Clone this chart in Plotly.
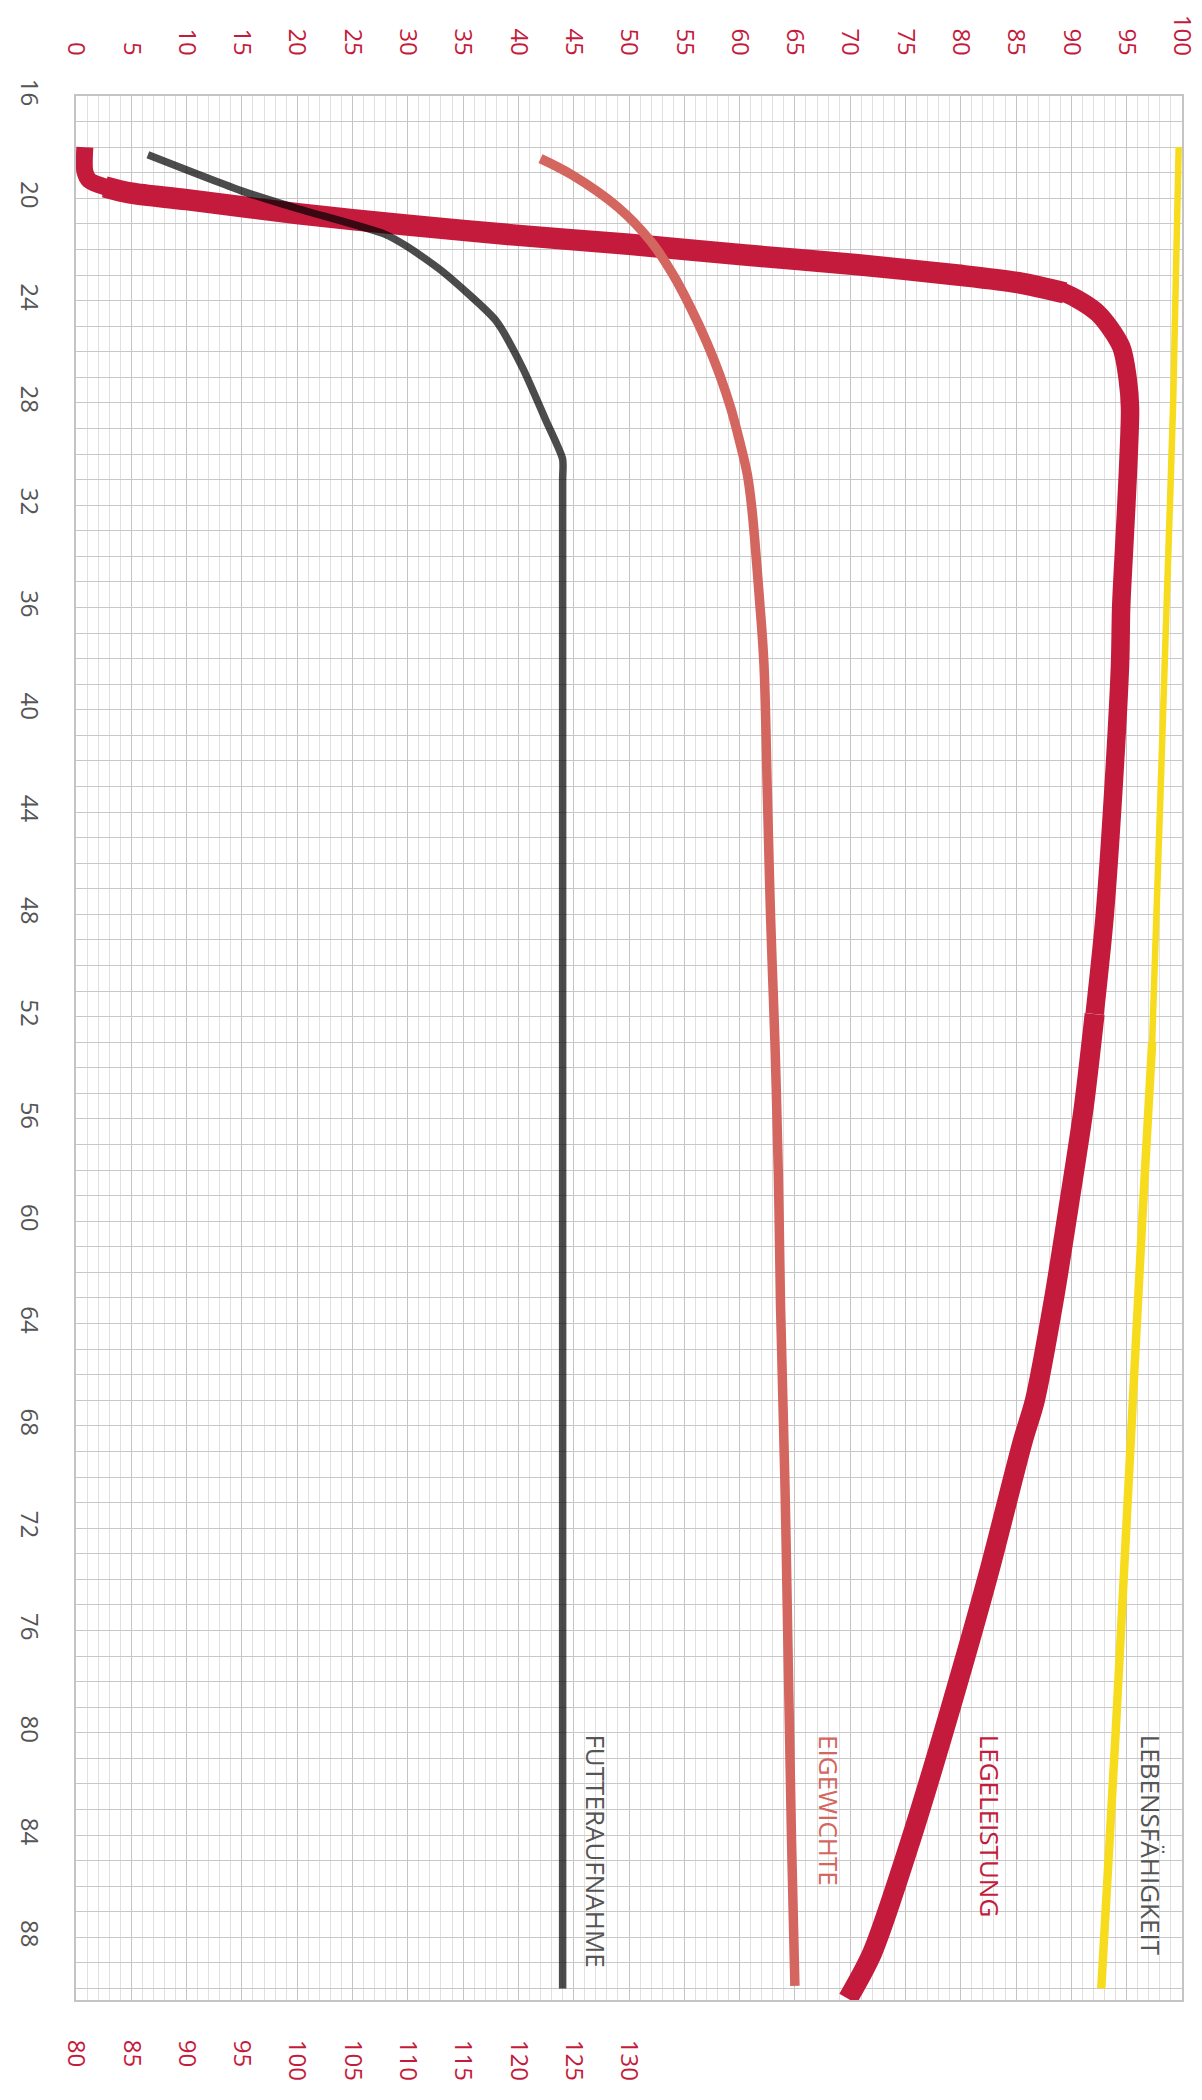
import plotly.graph_objects as go

# ---------------- data ----------------
# Lebensfähigkeit (%), top axis
leb_weeks = [18.0, 28.0, 36.0, 44.0, 53.0, 60.0, 70.0, 80.0, 90.0]
leb_vals = [99.7, 99.2, 98.6, 98.0, 97.3, 96.4, 95.2, 94.0, 92.7]

# Legeleistung (%), top axis
lege_weeks = [18.0, 18.95, 19.3, 19.55, 19.8, 20.05, 20.6, 21.05, 21.45, 21.8, 22.2,
              22.6, 23.0, 23.3, 23.7, 24.5, 25.8, 27.1, 28.2, 30.8, 33.4, 36.0,
              38.2, 43.1, 48.1, 51.9, 55.6, 59.3, 63.1, 67.0, 68.6, 73.8, 79.0,
              84.3, 88.6, 90.4]
lege_vals = [0.8, 0.8, 1.2, 2.6, 5.0, 10.0, 20.0, 30.0, 40.0, 50.0, 60.0,
             70.7, 79.7, 85.2, 89.4, 92.4, 94.5, 95.1, 95.3, 95.1, 94.8, 94.5,
             94.4, 93.8, 93.0, 92.1, 91.1, 89.8, 88.4, 86.7, 85.6, 82.5, 79.1,
             75.4, 72.0, 69.8]

# Eigewichte (g), top axis
ei_weeks = [18.45, 19.1, 20.35, 21.7, 23.0, 24.3, 25.6, 26.9, 28.2, 29.5, 30.8,
            32.1, 35.7, 38.2, 43.1, 48.1, 53.1, 58.1, 63.3, 70.3, 77.3, 84.3, 89.9]
ei_vals = [42.0, 44.9, 49.0, 52.0, 54.0, 55.6, 57.0, 58.2, 59.2, 60.0, 60.7,
           61.1, 61.8, 62.2, 62.5, 62.8, 63.2, 63.5, 63.7, 64.1, 64.4, 64.7, 65.0]

# Futteraufnahme (g), bottom axis
fut_weeks = [18.3, 19.7, 20.4, 21.4, 21.9, 22.85, 24.8, 26.65, 28.7, 30.2, 31.0, 40.0, 90.0]
fut_vals = [86.5, 94.9, 100.0, 107.9, 110.0, 113.1, 118.0, 120.4, 122.5, 124.0, 124.0, 124.0, 124.0]

top_ticks = list(range(0, 101, 5))
bottom_ticks = list(range(80, 131, 5))
week_ticks = list(range(16, 89, 4))

labels = ["FUTTERAUFNAHME", "EIGEWICHTE", "LEGELEISTUNG", "LEBENSFÄHIGKEIT"]
label_x = [47.0, 68.1, 82.6, 97.15]
label_y = [80.0, 80.0, 80.0, 80.0]

# ---------------- style ----------------
CRIMSON = "#c41b3c"
SALMON = "#d46660"
GREY_TXT = "#555555"
YELLOW = "#f7dc1e"
FONT = "Open Sans"

fig = go.Figure()

# Lebensfähigkeit: brush gets slightly wider further down
for (a, b), w in zip([(0, 4), (4, 8)], [6.5, 8.5]):
    fig.add_trace(go.Scatter(x=leb_vals[a:b + 1], y=leb_weeks[a:b + 1], mode="lines",
                             line=dict(color=YELLOW, width=w, shape="spline", smoothing=0.6),
                             hoverinfo="skip"))

# Legeleistung: brush strokes of varying width (overlapping pieces)
for (a, b), w in zip([(0, 4), (3, 14), (13, 25), (25, 35)], [17, 21.5, 18.5, 20]):
    fig.add_trace(go.Scatter(x=lege_vals[a:b + 1], y=lege_weeks[a:b + 1], mode="lines",
                             line=dict(color=CRIMSON, width=w, shape="spline", smoothing=0.8),
                             hoverinfo="skip"))

fig.add_trace(go.Scatter(x=ei_vals, y=ei_weeks, mode="lines",
                         line=dict(color=SALMON, width=9.5, shape="spline", smoothing=1.0),
                         hoverinfo="skip"))
fig.add_trace(go.Scatter(x=fut_vals, y=fut_weeks, mode="lines", xaxis="x2",
                         line=dict(color="rgba(0,0,0,0.7)", width=7.5, shape="spline", smoothing=0.6),
                         hoverinfo="skip"))

label_colors = [GREY_TXT, SALMON, CRIMSON, GREY_TXT]
for t, lx, ly, c in zip(labels, label_x, label_y, label_colors):
    fig.add_annotation(x=lx, y=ly, xref="x", yref="y", text=t, showarrow=False,
                       textangle=90, xanchor="center", yanchor="top",
                       font=dict(family=FONT, size=26, color=c))

fig.update_layout(
    template="none",
    width=1202, height=2100,
    margin=dict(l=68, r=28, t=88, b=108, autoexpand=False),
    paper_bgcolor="white", plot_bgcolor="white",
    showlegend=False,
    xaxis=dict(
        range=[0, 100], side="top", tickmode="array", tickvals=top_ticks,
        ticktext=[str(v) for v in top_ticks], tickangle=90, automargin=False,
        tickfont=dict(family=FONT, size=24, color=CRIMSON),
        ticks="outside", ticklen=30, tickcolor="rgba(0,0,0,0)",
        showgrid=True, gridcolor="#c4c4c4", gridwidth=1,
        minor=dict(dtick=1, tick0=0, showgrid=True, gridcolor="#e0e0e0", gridwidth=1, ticks=""),
        showline=True, linecolor="#c4c4c4", linewidth=1.5, mirror=True, zeroline=False,
    ),
    xaxis2=dict(
        range=[80, 180], overlaying="x", side="bottom", anchor="y", automargin=False,
        tickmode="array", tickvals=bottom_ticks, ticktext=[str(v) for v in bottom_ticks],
        tickangle=90, tickfont=dict(family=FONT, size=24, color=CRIMSON),
        ticks="outside", ticklen=34, tickcolor="rgba(0,0,0,0)",
        showgrid=False, showline=False, zeroline=False,
    ),
    yaxis=dict(
        range=[90.45, 16], tickmode="array", tickvals=week_ticks, automargin=False,
        ticktext=[str(v) for v in week_ticks], tickangle=90,
        tickfont=dict(family=FONT, size=24, color=GREY_TXT),
        ticks="outside", ticklen=24, tickcolor="rgba(0,0,0,0)",
        showgrid=True, gridcolor="#c8c8c8", gridwidth=1,
        minor=dict(dtick=1, tick0=16, showgrid=True, gridcolor="#c8c8c8", gridwidth=1, ticks=""),
        showline=True, linecolor="#c4c4c4", linewidth=1.5, mirror=True, zeroline=False,
    ),
)

fig.write_html("out.html")
